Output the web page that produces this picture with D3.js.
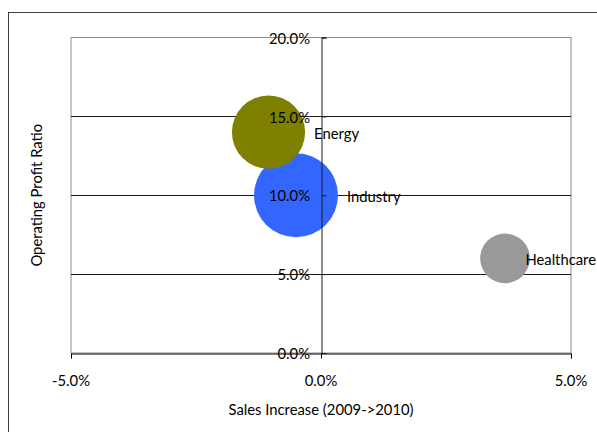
<!DOCTYPE html>
<html><head><meta charset="utf-8">
<script src="https://cdn.jsdelivr.net/npm/d3@7"></script>
<style>body{margin:0;background:#fff}svg{display:block}text{font-family:Lato,"Open Sans",sans-serif;fill:#000}</style>
</head><body><svg id="c" width="597" height="432"></svg>
<script>
const categories = ["Energy", "Industry", "Healthcare"];
const salesIncrease = [-1.05, -0.5, 3.68];
const profitRatio = [14.0, 10.0, 6.0];
const bubbleSize = [76, 100, 35];
const colors = ["#808000", "#3366FF", "#999999"];
const xTicks = [-5, 0, 5];
const yTicks = [0, 5, 10, 15, 20];

const svg = d3.select("#c");
const W = 597, H = 432;
const FS = 14.8;
const m = {l: 71, r: 26, t: 37.5, b: 79};
const x = d3.scaleLinear().domain([-5, 5]).range([m.l, W - m.r]);
const y = d3.scaleLinear().domain([0, 20]).range([H - m.b, m.t]);
const r = d3.scaleSqrt().domain([0, 100]).range([0, 42]);
const fmt = v => v.toFixed(1) + "%";

// outer chart border
svg.append("rect").attr("x", 8.5).attr("y", 12.5).attr("width", 620).attr("height", 440)
  .attr("fill", "none").attr("stroke", "#404040").attr("stroke-width", 1);

// plot border
svg.append("rect").attr("x", x(-5)).attr("y", y(20)).attr("width", x(5) - x(-5)).attr("height", y(0) - y(20))
  .attr("fill", "none").attr("stroke", "#8c8c8c");

// gridlines
svg.append("g").selectAll("line").data(yTicks.filter(d => d > 0 && d < 20)).join("line")
  .attr("x1", x(-5)).attr("x2", x(5)).attr("y1", d => Math.round(y(d)) + 0.5).attr("y2", d => Math.round(y(d)) + 0.5)
  .attr("stroke", "#1a1a1a");

// bubbles (largest first)
const pts = categories.map((c, i) => ({c, x: salesIncrease[i], y: profitRatio[i], s: bubbleSize[i], col: colors[i]}));
const sorted = pts.slice().sort((a, b) => b.s - a.s);
svg.append("g").selectAll("circle").data(sorted).join("circle")
  .attr("cx", d => x(d.x)).attr("cy", d => y(d.y)).attr("r", d => r(d.s)).attr("fill", d => d.col);

// x axis (at y=0)
const xAxis = d3.axisBottom(x).tickValues(xTicks).tickSize(5).tickFormat("");
const gx = svg.append("g").attr("transform", `translate(0,${Math.round(y(0)) + 0.5})`).call(xAxis);
gx.select(".domain").attr("stroke", "#000");
gx.selectAll(".tick line").attr("stroke", "#000");
svg.append("g").selectAll("text").data(xTicks).join("text")
  .attr("x", d => x(d)).attr("y", 386).attr("text-anchor", "middle").attr("font-size", FS).text(fmt);

// y axis (at x=0)
const yAxis = d3.axisRight(y).tickValues(yTicks).tickSize(5).tickFormat("");
const gy = svg.append("g").attr("transform", `translate(${Math.round(x(0)) + 0.5},0)`).call(yAxis);
gy.select(".domain").attr("stroke", "#1a1a1a");
gy.selectAll(".tick line").attr("stroke", "#1a1a1a");
svg.append("g").selectAll("text").data(yTicks).join("text")
  .attr("x", x(0) - 11).attr("y", d => y(d)).attr("dy", "0.42em").attr("text-anchor", "end")
  .attr("font-size", FS).text(fmt);

// data labels
const lbl = svg.append("g").selectAll("text").data(pts).join("text")
  .attr("y", d => y(d.y)).attr("dy", "0.45em").attr("font-size", FS).text(d => d.c);
lbl.attr("x", function(d) {
  const w = this.getComputedTextLength();
  return Math.min(x(d.x) + r(d.s) + 9, W - 1 - w);
});

// axis titles
svg.append("text").attr("x", x(0)).attr("y", 415).attr("text-anchor", "middle").attr("font-size", FS)
  .text("Sales Increase (2009->2010)");
svg.append("text").attr("transform", `translate(42,${y(10)}) rotate(-90)`).attr("text-anchor", "middle")
  .attr("font-size", FS).text("Operating Profit Ratio");
</script></body></html>
